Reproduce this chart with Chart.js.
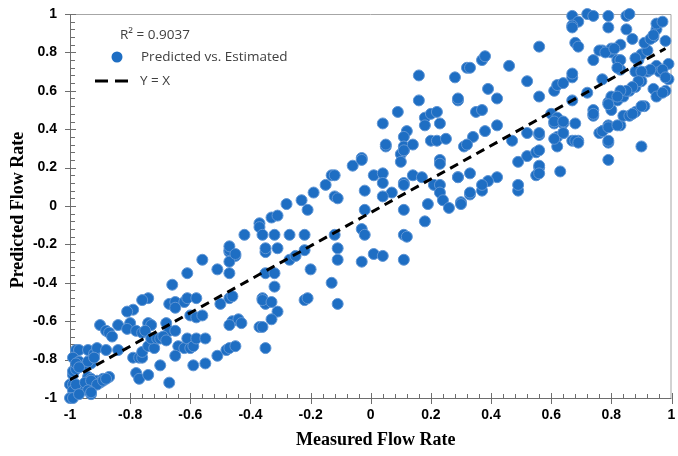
<!DOCTYPE html>
<html>
<head>
<meta charset="utf-8">
<script src="https://cdn.jsdelivr.net/npm/chart.js@4.4.1/dist/chart.umd.min.js"></script>
<style>
  body { margin: 0; background: #fff; }
  #chart { display: block; }
</style>
</head>
<body>
<canvas id="chart" width="678" height="456"></canvas>
<script>
// measured (x) and predicted (y) flow rates
const measured = [
  -0.56, -0.47, -0.45, -0.51, -0.47, -0.47, -0.35, -0.35, -0.61, -0.66,
  -0.74, -0.76, -0.79, -0.81, -0.67, -0.65, -0.62, -0.61, -0.58, -0.65,
  -0.50, -0.47, -0.46, -0.36, -0.35, -0.90, -0.88, -0.87, -0.86, -0.84,
  -0.80, -0.81, -0.78, -0.76, -0.74, -0.73, -0.75, -0.68, -0.67, -0.65,
  -0.60, -0.58, -0.56, -0.46, -0.44, -0.43, -0.47, -0.37, -0.35, -0.98,
  -0.97, -0.94, -0.92, -0.91, -0.88, -0.84, -0.99, -0.97, -0.94, -0.93,
  -0.95, -0.79, -0.77, -0.76, -0.76, -0.74, -0.72, -0.73, -0.71, -0.70,
  -0.69, -0.68, -0.64, -0.65, -0.62, -0.61, -0.60, -0.59, -0.58, -0.55,
  -0.51, -0.48, -0.47, -0.45, -0.70, -0.67, -0.59, -0.55, -0.99, -0.99,
  -0.98, -0.94, -0.93, -0.91, -0.89, -0.87, -0.90, -0.78, -0.77, -0.74,
  -1.00, -0.99, -0.97, -0.99, -1.00, -0.99, -0.93, -0.98, -0.95, -0.93,
  -0.91, -0.89, -0.88, -0.94, -0.93, -0.97, -0.98, -0.97, -0.94, -0.92,
  -0.47, -0.47, -0.45, -0.42, -0.37, -0.37, -0.36, -0.35, -0.13, -0.12,
  -0.15, -0.19, -0.12, -0.11, -0.23, -0.21, -0.28, -0.33, -0.31, -0.32,
  -0.27, -0.22, -0.31, -0.27, -0.25, -0.22, -0.12, -0.11, -0.11, -0.32,
  -0.32, -0.20, -0.13, -0.36, -0.33, -0.22, -0.21, -0.31, -0.33, -0.36,
  -0.11, -0.03, -0.06, -0.03, -0.02, -0.02, -0.03, -0.02, 0.01, 0.04,
  -0.03, 0.01, 0.04, 0.04, 0.07, 0.04, 0.11, 0.11, 0.12, 0.11,
  0.10, 0.11, 0.10, 0.23, 0.23, 0.29, 0.21, 0.23, 0.23, 0.19,
  0.24, 0.26, 0.30, 0.18, 0.14, 0.17, 0.11, 0.11, 0.16, 0.28,
  0.32, 0.16, 0.29, 0.09, 0.04, 0.18, 0.20, 0.22, 0.18, 0.23,
  0.12, 0.11, 0.05, 0.05, 0.11, 0.11, 0.14, 0.20, 0.22, 0.25,
  0.31, 0.30, 0.33, 0.37, 0.49,
  0.33, 0.37, 0.38, 0.46, 0.56, 0.29, 0.39, 0.42, 0.35, 0.37,
  0.52, 0.56, 0.42, 0.38, 0.34, 0.32, 0.47, 0.52, 0.56, 0.49,
  0.52, 0.55, 0.56, 0.55, 0.49, 0.42, 0.39, 0.37, 0.33, 0.33,
  0.29, 0.63, 0.61, 0.62, 0.64, 0.67, 0.67, 0.67, 0.60, 0.61,
  0.62, 0.64, 0.68, 0.62, 0.64, 0.62, 0.67, 0.69, 0.72, 0.74,
  0.74, 0.74, 0.77, 0.80, 0.80, 0.83, 0.82, 0.83, 0.77, 0.79,
  0.80, 0.82, 0.84, 0.86, 0.88, 0.90, 0.77, 0.79, 0.83, 0.84,
  0.86, 0.88, 0.91, 0.79, 0.79, 0.90, 0.67, 0.69, 0.67, 0.67,
  0.72, 0.74, 0.79, 0.79, 0.85, 0.86, 0.68, 0.69, 0.85, 0.87,
  0.89, 0.90, 0.92, 0.94, 0.95, 0.95, 0.97, 0.98, 0.99, 0.99,
  0.98, 0.88, 0.92, 0.95, 0.96, 0.94, 0.95, 0.80, 0.79, 0.97,
  0.98, 0.97, 0.93, 0.90, 0.89, 0.87, 0.85, 0.83, 0.82, 0.76,
  0.78, 0.81, 0.83, 0.82, 0.91, 0.93, 0.94, 0.88, 0.61, 0.64,
  0.64, 0.61, 0.68, 0.69, 0.74, 0.76, 0.77, 0.79, 0.82, 0.87,
  0.90, 0.79, 0.56, 0.56, 0.56, 0.56
];
const predicted = [
  -0.28, -0.24, -0.26, -0.33, -0.29, -0.35, -0.24, -0.35, -0.35, -0.41,
  -0.48, -0.49, -0.54, -0.55, -0.51, -0.50, -0.50, -0.48, -0.48, -0.53,
  -0.51, -0.48, -0.47, -0.48, -0.51, -0.62, -0.65, -0.66, -0.68, -0.62,
  -0.61, -0.64, -0.65, -0.66, -0.61, -0.62, -0.65, -0.61, -0.65, -0.65,
  -0.57, -0.58, -0.57, -0.60, -0.59, -0.61, -0.62, -0.63, -0.74, -0.75,
  -0.75, -0.75, -0.77, -0.74, -0.75, -0.75, -0.79, -0.81, -0.81, -0.82,
  -0.83, -0.79, -0.79, -0.79, -0.76, -0.73, -0.74, -0.69, -0.69, -0.69,
  -0.68, -0.70, -0.73, -0.78, -0.74, -0.69, -0.74, -0.73, -0.69, -0.69,
  -0.78, -0.75, -0.74, -0.73, -0.83, -0.92, -0.83, -0.82, -0.88, -0.86,
  -0.85, -0.89, -0.90, -0.91, -0.90, -0.89, -0.92, -0.87, -0.90, -0.88,
  -0.93, -0.93, -0.94, -0.96, -1.00, -1.00, -0.98, -0.93, -0.92, -0.91,
  -0.93, -0.91, -0.90, -0.96, -0.97, -0.98, -0.82, -0.84, -0.81, -0.79,
  -0.23, -0.21, -0.25, -0.15, -0.09, -0.11, -0.15, -0.22, 0.16, 0.16,
  0.11, 0.07, 0.05, 0.04, 0.03, -0.02, 0.01, -0.06, -0.05, -0.15,
  -0.15, -0.15, -0.22, -0.28, -0.26, -0.23, -0.15, -0.22, -0.28, -0.35,
  -0.42, -0.33, -0.40, -0.49, -0.50, -0.49, -0.48, -0.55, -0.59, -0.63,
  -0.51, 0.25, 0.21, 0.24, 0.08, -0.02, -0.12, -0.15, -0.25, -0.26,
  -0.29, 0.16, 0.17, 0.12, 0.07, 0.05, -0.02, -0.15, -0.16, -0.28,
  0.27, 0.29, 0.23, 0.24, 0.22, 0.15, 0.11, 0.11, 0.07, 0.01,
  0.03, -0.01, 0.02, -0.08, 0.16, 0.15, 0.12, 0.11, 0.68, 0.67,
  0.72, 0.55, 0.55, 0.49, 0.43, 0.46, 0.48, 0.49, 0.42, 0.43,
  0.39, 0.36, 0.31, 0.32, 0.31, 0.29, 0.32, 0.34, 0.34, 0.35,
  0.31, 0.01, 0.06, 0.08, 0.08,
  0.72, 0.76, 0.78, 0.73, 0.83, 0.56, 0.61, 0.56, 0.49, 0.50,
  0.65, 0.57, 0.42, 0.39, 0.36, 0.32, 0.34, 0.38, 0.37, 0.23,
  0.26, 0.28, 0.20, 0.16, 0.11, 0.15, 0.13, 0.11, 0.17, 0.07,
  0.15, 0.18, 0.60, 0.63, 0.64, 0.67, 0.69, 0.55, 0.48, 0.43,
  0.46, 0.43, 0.43, 0.36, 0.38, 0.31, 0.34, 0.34, 0.59, 0.50,
  0.47, 0.76, 0.81, 0.80, 0.82, 0.84, 0.76, 0.71, 0.66, 0.54,
  0.50, 0.55, 0.57, 0.60, 0.62, 0.65, 0.39, 0.42, 0.42, 0.47,
  0.47, 0.49, 0.52, 0.33, 0.24, 0.31, 0.99, 0.96, 0.94, 0.93,
  1.00, 0.99, 0.99, 0.93, 0.99, 1.00, 0.85, 0.83, 0.92, 0.87,
  0.76, 0.79, 0.81, 0.88, 0.92, 0.95, 0.96, 0.86, 0.74, 0.66,
  0.60, 0.70, 0.70, 0.73, 0.70, 0.61, 0.57, 0.57, 0.53, 0.71,
  0.67, 0.59, 0.71, 0.70, 0.65, 0.62, 0.60, 0.60, 0.57, 0.81,
  0.80, 0.82, 0.76, 0.72, 0.85, 0.87, 0.89, 0.77, 0.44, 0.44,
  0.38, 0.35, 0.34, 0.33, 0.48, 0.38, 0.39, 0.41, 0.42, 0.48,
  0.52, 0.34, 0.38, 0.29, 0.21, 0.17
];

// dashed reference line ends
const refLineX = [-1, 0.98];
const refLineY = [-0.905, 0.82];

const tickValues = [-1, -0.8, -0.6, -0.4, -0.2, 0, 0.2, 0.4, 0.6, 0.8, 1];
const r2Text = 'R\u00b2 = 0.9037';
const scatterLabel = 'Predicted vs. Estimated';
const lineLabel = 'Y = X';
const xTitle = 'Measured Flow Rate';
const yTitle = 'Predicted Flow Rate';

const tickFont = { family: '"Liberation Sans", Arial, sans-serif', size: 14, weight: 'bold' };

// axes with crossing major ticks and inside minor ticks, light top/right border
const framePlugin = {
  id: 'frame',
  beforeDatasetsDraw(chart) {
    const { ctx, chartArea, scales } = chart;
    const { left, right, top, bottom } = chartArea;
    ctx.save();
    ctx.lineWidth = 1;
    ctx.strokeStyle = '#a6a6a6';
    ctx.beginPath();
    ctx.moveTo(left, top + 0.5);
    ctx.lineTo(right - 0.5, top + 0.5);
    ctx.lineTo(right - 0.5, bottom);
    ctx.stroke();

    ctx.strokeStyle = '#6e6e6e';
    ctx.beginPath();
    ctx.moveTo(left + 0.5, top);
    ctx.lineTo(left + 0.5, bottom + 0.5);
    ctx.lineTo(right, bottom + 0.5);
    for (let i = 0; i <= 50; i++) {
      const v = -1 + i * 0.04;
      const major = i % 5 === 0;
      const px = Math.round(scales.x.getPixelForValue(v)) + 0.5;
      const py = Math.round(scales.y.getPixelForValue(v)) + 0.5;
      if (major) {
        ctx.moveTo(px, bottom - 5); ctx.lineTo(px, bottom + 6);
        ctx.moveTo(left - 5, py); ctx.lineTo(left + 6, py);
      } else {
        ctx.moveTo(px, bottom - 4); ctx.lineTo(px, bottom);
        ctx.moveTo(left, py); ctx.lineTo(left + 5, py);
      }
    }
    ctx.stroke();

    // axis titles sit a little right of / below the plot centre, as in the original
    ctx.fillStyle = '#000';
    ctx.font = 'bold 18px "Liberation Serif", "Times New Roman", serif';
    ctx.textAlign = 'center';
    ctx.textBaseline = 'middle';
    ctx.fillText(xTitle, (left + right) / 2 + 5, 440);
    ctx.translate(18, (top + bottom) / 2 + 4);
    ctx.rotate(-Math.PI / 2);
    ctx.fillText(yTitle, 0, 0);
    ctx.restore();
  }
};

const legendPlugin = {
  id: 'innerLegend',
  afterDraw(chart) {
    const { ctx } = chart;
    ctx.save();
    ctx.font = '13.5px "Open Sans", "Noto Sans", sans-serif';
    ctx.fillStyle = '#404040';
    ctx.textBaseline = 'middle';
    ctx.fillText(r2Text, 120, 35);
    ctx.fillText(scatterLabel, 141, 57);
    ctx.fillText(lineLabel, 140, 81);

    ctx.beginPath();
    ctx.arc(117, 57, 5.5, 0, Math.PI * 2);
    ctx.fillStyle = '#1e6ec3';
    ctx.fill();

    ctx.strokeStyle = '#000';
    ctx.lineWidth = 3;
    ctx.setLineDash([13, 7]);
    ctx.beginPath();
    ctx.moveTo(95, 81);
    ctx.lineTo(128, 81);
    ctx.stroke();
    ctx.restore();
  }
};

const setTicks = (scale) => {
  scale.ticks = tickValues.map((v) => ({ value: v }));
};

// fixed axis boxes, no extra label padding so the plot area keeps its place
const fitX = (s) => { s.height = 58; s.paddingLeft = 0; s.paddingRight = 0; };
const fitY = (s) => { s.width = 70; s.paddingTop = 0; s.paddingBottom = 0; };

new Chart(document.getElementById('chart'), {
  type: 'scatter',
  data: {
    datasets: [
      {
        type: 'line',
        label: lineLabel,
        data: refLineX.map((x, i) => ({ x, y: refLineY[i] })),
        borderColor: '#000',
        borderWidth: 3,
        borderDash: [9, 6],
        pointRadius: 0,
        fill: false,
        order: 0,
      },
      {
        label: scatterLabel,
        data: measured.map((x, i) => ({ x, y: predicted[i] })),
        backgroundColor: '#1e6ec3',
        borderColor: '#5f95d4',
        borderWidth: 1,
        pointRadius: 5.5,
        clip: false,
        order: 1,
      },
    ],
  },
  options: {
    responsive: false,
    animation: false,
    devicePixelRatio: 1,
    layout: { padding: { top: 14, right: 2, bottom: 0, left: 0 } },
    plugins: { legend: { display: false }, tooltip: { enabled: false } },
    scales: {
      x: {
        type: 'linear',
        min: -1,
        max: 1,
        afterBuildTicks: setTicks,
        afterFit: fitX,
        grid: { display: false, drawTicks: false },
        border: { display: false },
        ticks: { padding: 9, color: '#000', font: tickFont, autoSkip: false, maxRotation: 0, callback: (v) => String(v) },
      },
      y: {
        type: 'linear',
        min: -1,
        max: 1,
        afterBuildTicks: setTicks,
        afterFit: fitY,
        grid: { display: false, drawTicks: false },
        border: { display: false },
        ticks: { padding: 13, color: '#000', font: tickFont, autoSkip: false, callback: (v) => String(v) },
      },
    },
  },
  plugins: [framePlugin, legendPlugin],
});
</script>
</body>
</html>
